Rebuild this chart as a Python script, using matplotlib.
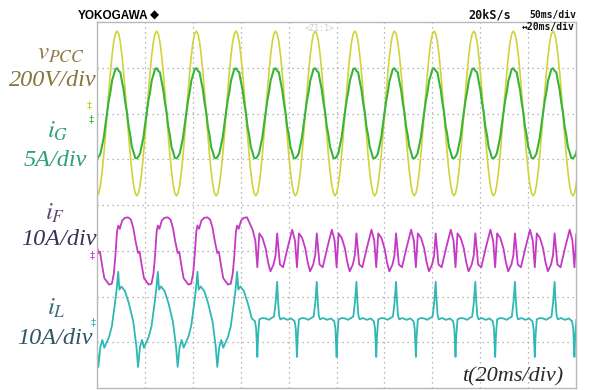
import numpy as np
import matplotlib.pyplot as plt

plt.rcParams['mathtext.fontset'] = 'stix'

# timebase: 20 ms/div, 10 div across; vertical: 8 div
PERIOD_MS = 16.55        # one mains cycle
FIRST_ZERO_MS = 4.22     # first rising zero crossing of v_pcc
SWITCH_MS = 63.5         # compensation switched on

# per-cycle samples, phase measured from the rising zero crossing of v_pcc
sine_phase = np.arange(24) / 24
v_pcc_div = [0.0, 0.47, 0.90, 1.27, 1.56, 1.74, 1.80, 1.74, 1.56, 1.27, 0.90, 0.47,
             0.0, -0.47, -0.90, -1.27, -1.56, -1.74, -1.80, -1.74, -1.56, -1.27, -0.90, -0.47]
i_g_div = [0.02, 0.28, 0.47, 0.72, 0.84, 0.97, 0.99, 0.93, 0.90, 0.70, 0.52, 0.24,
           0.03, -0.28, -0.47, -0.73, -0.84, -0.97, -0.98, -0.94, -0.87, -0.69, -0.52, -0.24]

i_f_before_phase = [0.0, 0.05, 0.12, 0.17, 0.21, 0.25, 0.28, 0.32, 0.38, 0.45, 0.53, 0.60,
                    0.66, 0.72, 0.78, 0.82, 0.87, 0.93]
i_f_before_div = [-0.68, -0.74, -0.72, -0.50, -0.10, 0.42, 0.55, 0.48, 0.66, 0.72, 0.73, 0.68,
                  0.50, 0.20, -0.05, -0.02, -0.30, -0.60]
i_f_after_phase = [0.0, 0.06, 0.12, 0.20, 0.25, 0.29, 0.36, 0.44, 0.55, 0.67, 0.74, 0.79, 0.84, 0.92]
i_f_after_div = [0.05, -0.25, -0.45, -0.30, -0.10, 0.38, -0.30, -0.36, 0.05, 0.46, 0.22, -0.36, 0.38, 0.28]

i_l_before_phase = [0.0, 0.05, 0.12, 0.19, 0.24, 0.28, 0.31, 0.36, 0.45, 0.55, 0.66,
                    0.74, 0.78, 0.83, 0.88, 0.93]
i_l_before_div = [-0.48, -0.38, -0.15, 0.30, 0.65, 1.04, 0.65, 0.72, 0.62, 0.35, -0.05,
                  -0.60, -1.04, -0.60, -0.45, -0.62]
i_l_after_phase = [0.0, 0.08, 0.15, 0.21, 0.25, 0.29, 0.31, 0.34, 0.37, 0.45, 0.55, 0.65,
                   0.73, 0.76, 0.79, 0.81, 0.84, 0.92]
i_l_after_div = [0.02, -0.01, 0.03, 0.06, 0.35, 0.82, 0.45, 0.08, 0.0, 0.03, -0.01, 0.02,
                 -0.04, -0.20, -0.82, -0.35, 0.0, 0.03]

# channel zero levels (div)
offset_v, offset_g, offset_f, offset_l = 2.0, 2.0, -1.0, -2.5


def tile(phase, vals):
    t, y = [], []
    for k in range(-2, 14):
        t.extend(FIRST_ZERO_MS + (k + np.asarray(phase)) * PERIOD_MS)
        y.extend(vals)
    return np.array(t), np.array(y)


def switched(before, after):
    t1, y1 = tile(*before)
    t2, y2 = tile(*after)
    m1 = t1 < SWITCH_MS
    m2 = t2 >= SWITCH_MS
    return np.concatenate([t1[m1], t2[m2]]), np.concatenate([y1[m1], y2[m2]])


W, H = 591, 390
fig = plt.figure(figsize=(W / 100, H / 100), dpi=100)
ax = fig.add_axes([97 / W, 1 - 388 / H, 479 / W, 366 / H])
ax.set_xlim(0, 200)
ax.set_ylim(-4, 4)
ax.set_xticks([])
ax.set_yticks([])
for s in ax.spines.values():
    s.set_color('#b8b8b8')
    s.set_linewidth(1.0)

for i in range(1, 10):
    ax.axvline(i * 20, color='#a0a0a0', lw=0.9, ls=(0, (1, 3)), zorder=0)
for j in range(-3, 4):
    ax.axhline(j, color='#a0a0a0', lw=0.9, ls=(0, (1, 3)), zorder=0)

t, y = tile(sine_phase, v_pcc_div)
ax.plot(t, y + offset_v, color='#d2d23c', lw=1.2)
t, y = tile(sine_phase, i_g_div)
ax.plot(t, y + offset_g, color='#38b538', lw=1.5)
t, y = switched((i_f_before_phase, i_f_before_div), (i_f_after_phase, i_f_after_div))
ax.plot(t, y + offset_f, color='#c43ac4', lw=1.3)
t, y = switched((i_l_before_phase, i_l_before_div), (i_l_after_phase, i_l_after_div))
ax.plot(t, y + offset_l, color='#2fb8b4', lw=1.3)


def ftext(x, y, s, **kw):
    fig.text(x / W, 1 - y / H, s, **kw)


serif = dict(family='Liberation Serif', style='italic', fontsize=17.5, va='baseline')
ftext(37, 60, r'$v_{PCC}$', fontsize=18, color='#8c7b3e', va='baseline')
ftext(97, 86, '200V/div', ha='right', color='#857640', **serif)
ftext(47, 138, r'$i_G$', fontsize=18, color='#2f9e80', va='baseline')
ftext(87, 166, '5A/div', ha='right', color='#2f9e80', **serif)
ftext(45, 220, r'$i_F$', fontsize=18, color='#5b4a72', va='baseline')
ftext(97, 245, '10A/div', ha='right', color='#3e3258', **serif)
ftext(47, 315, r'$i_L$', fontsize=18, color='#3a6a78', va='baseline')
ftext(93, 344, '10A/div', ha='right', color='#2e5666', **serif)
ftext(563, 381, 't(20ms/div)', ha='right', color='#2a2a2a',
      family='Liberation Serif', style='italic', fontsize=16, va='baseline')

# channel zero markers
ftext(89, 105, '‡', color='#c8c820', fontsize=7.5, ha='center', va='center')
ftext(91, 119, '‡', color='#38b538', fontsize=7.5, ha='center', va='center')
ftext(92, 255, '‡', color='#c43ac4', fontsize=7.5, ha='center', va='center')
ftext(93, 322, '‡', color='#2fb8b4', fontsize=7.5, ha='center', va='center')

# scope header
ftext(78, 19, 'YOKOGAWA', family='Liberation Sans', weight='bold', fontsize=8.5, color='black')
ftext(150, 19, '◆', family='DejaVu Sans', fontsize=8.5, color='black')
ftext(468, 18, '20kS/s', family='DejaVu Sans Mono', weight='bold', fontsize=8.5, color='#111111')
ftext(529, 18, '50ms/div', family='DejaVu Sans Mono', weight='bold', fontsize=7, color='#111111')
ftext(522, 30, '↔20ms/div', family='DejaVu Sans Mono', weight='bold', fontsize=7, color='#111111')
ftext(305, 31, '<Z1:1>', family='DejaVu Sans Mono', fontsize=6, color='#cccccc')

fig.savefig('out.png', dpi=100)
